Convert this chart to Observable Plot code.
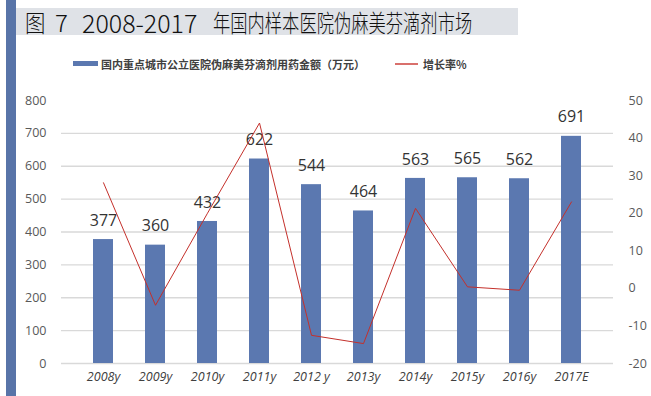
<!DOCTYPE html>
<html><head><meta charset="utf-8">
<script src="https://cdn.jsdelivr.net/npm/d3@7"></script>
<script src="https://cdn.jsdelivr.net/npm/@observablehq/plot@0.6"></script>
<style>
html,body{margin:0;padding:0;background:#fff;}
#wrap{position:relative;width:651px;height:396px;overflow:hidden;font-family:"Noto Sans CJK SC","Noto Sans",sans-serif;}
#stripe{position:absolute;left:6px;top:0;width:10px;height:396px;background:#5874a8;}
#title{position:absolute;left:16px;top:8px;width:502px;height:27px;background:#dfe2e7;}
#title span{position:absolute;top:2px;font-size:24px;line-height:24px;color:#111;white-space:nowrap;transform-origin:0 50%;font-weight:300;}
.leg{position:absolute;top:56px;font-size:11px;font-weight:bold;color:#404040;line-height:16px;white-space:nowrap;}
#sw1{position:absolute;left:73px;top:61px;width:25px;height:5px;background:#5b78b0;}
#sw2{position:absolute;left:395px;top:63px;width:23px;height:1.5px;background:#d9706c;}
#chart{position:absolute;left:0;top:0;}
</style></head>
<body><div id="wrap">
<div id="chart"></div>
<div id="stripe"></div>
<div id="title">
  <span style="left:9px;transform:scaleX(0.85)">图</span>
  <span style="left:39px">7</span>
  <span style="left:66px;font-size:25px">2008-2017</span>
  <span style="left:197px;transform:scaleX(0.72)">年国内样本医院伪麻美芬滴剂市场</span>
</div>
<div id="sw1"></div><div class="leg" style="left:101px">国内重点城市公立医院伪麻美芬滴剂用药金额（万元）</div>
<div id="sw2"></div><div class="leg" style="left:423px">增长率%</div>
</div>
<script>
const years = ["2008y","2009y","2010y","2011y","2012 y","2013y","2014y","2015y","2016y","2017E"];
const amounts = [377,360,432,622,544,464,563,565,562,691];
const growth = [28.1,-4.5,20.0,44.0,-12.5,-14.7,21.3,0.4,-0.5,23.0];
const leftTicks = [0,100,200,300,400,500,600,700,800];
const rightTicks = [-20,-10,0,10,20,30,40,50];

const data = years.map((year,i)=>({year, amount:amounts[i], growth:growth[i]}));
const rMin = -20, rMax = 50, lMax = 800;
const toLeft = g => (g - rMin) * lMax / (rMax - rMin);
const fromLeft = v => Math.round(v * (rMax - rMin) / lMax + rMin);

const chart = Plot.plot({
  width: 651, height: 396,
  marginTop: 100, marginBottom: 33, marginLeft: 61, marginRight: 38,
  style: {fontFamily: "'Open Sans','Noto Sans',sans-serif", fontSize: "12px", color: "#595959", background: "transparent"},
  x: {domain: years, padding: 0.61, axis: null, label: null},
  y: {domain: [0, lMax], axis: null, label: null},
  marks: [
    Plot.gridY(leftTicks.filter(d => d > 0 && d < lMax), {stroke: "#d9d9d9", strokeOpacity: 1, strokeWidth: 1.3}),
    Plot.ruleY([0], {stroke: "#d9d9d9", strokeWidth: 1.3}),
    Plot.barY(data, {x: "year", y: "amount", fill: "#5b78b0"}),
    Plot.text(data, {x: "year", y: "amount", text: d => String(d.amount), dy: -19, fontSize: 16, fill: "#333"}),
    Plot.lineY(data, {x: "year", y: d => toLeft(d.growth), stroke: "#c4302b", strokeWidth: 1}),
    Plot.axisY(leftTicks, {anchor: "left", tickSize: 0, tickPadding: 15, label: null, fill: "#595959", fontSize: 12.5}),
    Plot.axisY(rightTicks.map(toLeft), {anchor: "right", tickSize: 0, tickPadding: 15, label: null, tickFormat: fromLeft, fill: "#595959", fontSize: 12.5}),
    Plot.axisX({tickSize: 0, tickPadding: 9, label: null, fontStyle: "italic", fill: "#404040", fontSize: 12.5})
  ]
});
document.getElementById("chart").appendChild(chart);
</script>
</body></html>
